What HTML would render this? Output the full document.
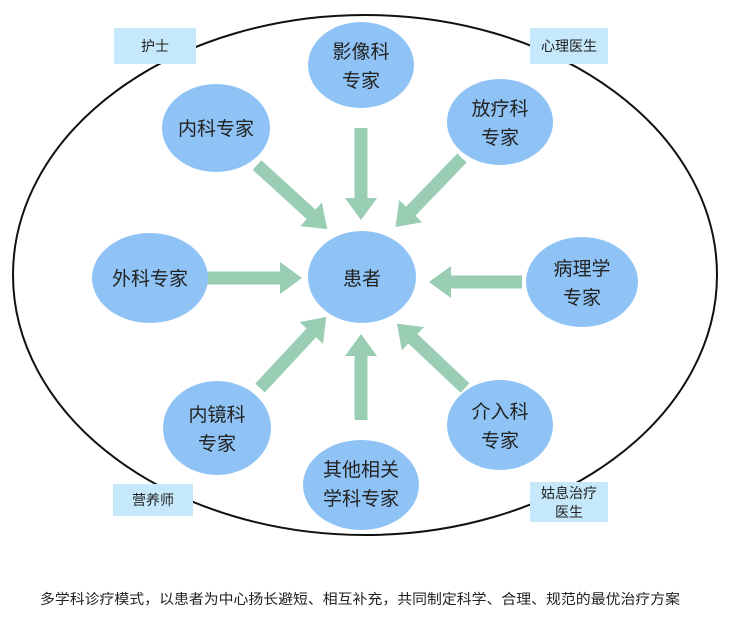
<!DOCTYPE html>
<html><head><meta charset="utf-8"><style>
body{margin:0;background:#fff;}
svg text{font-family:"Liberation Sans","Noto Sans CJK SC",sans-serif;fill:#222;}
</style></head><body>
<svg width="738" height="615" viewBox="0 0 738 615" xmlns="http://www.w3.org/2000/svg">
<defs>
<marker id="ah" markerUnits="userSpaceOnUse" markerWidth="32" markerHeight="32" refX="4" refY="16" orient="auto">
<path d="M0,0 L22,16 L0,32 Z" fill="#99cdb4"/>
</marker>
</defs>
<rect width="738" height="615" fill="#fff"/>
<ellipse cx="365" cy="275" rx="352" ry="260" fill="none" stroke="#111" stroke-width="2"/>
<g stroke="#99cdb4" stroke-width="13" marker-end="url(#ah)">
<line x1="361" y1="128" x2="361" y2="202"/>
<line x1="205" y1="278" x2="284" y2="278"/>
<line x1="522" y1="282" x2="447" y2="282"/>
<line x1="257" y1="165" x2="314" y2="217"/>
<line x1="462" y1="158" x2="408" y2="214"/>
<line x1="361" y1="420" x2="361" y2="352"/>
<line x1="260" y1="388" x2="314" y2="330"/>
<line x1="465" y1="388" x2="410" y2="336"/>
</g>
<g fill="#8fc3f5">
<ellipse cx="361" cy="65" rx="53" ry="43"/>
<ellipse cx="216" cy="128" rx="54" ry="44"/>
<ellipse cx="500" cy="122" rx="53" ry="43"/>
<ellipse cx="150" cy="278" rx="58" ry="45"/>
<ellipse cx="362" cy="277" rx="54" ry="46"/>
<ellipse cx="582" cy="282" rx="56" ry="45"/>
<ellipse cx="217" cy="428" rx="54" ry="47"/>
<ellipse cx="361" cy="485" rx="58" ry="45"/>
<ellipse cx="500" cy="425" rx="53" ry="45"/>
</g>
<g font-size="19" text-anchor="middle">
<text x="361" y="58">影像科</text><text x="361" y="87">专家</text>
<text x="216" y="135">内科专家</text>
<text x="500" y="115">放疗科</text><text x="500" y="144">专家</text>
<text x="150" y="285">外科专家</text>
<text x="362" y="285">患者</text>
<text x="582" y="275">病理学</text><text x="582" y="304">专家</text>
<text x="217" y="421">内镜科</text><text x="217" y="450">专家</text>
<text x="361" y="476">其他相关</text><text x="361" y="505">学科专家</text>
<text x="500" y="418">介入科</text><text x="500" y="447">专家</text>
</g>
<g fill="#c5e8fb">
<rect x="114" y="28" width="82" height="36"/>
<rect x="530" y="28" width="78" height="36"/>
<rect x="113" y="484" width="80" height="32"/>
<rect x="530" y="482" width="78" height="40"/>
</g>
<g font-size="14" text-anchor="middle">
<text x="155" y="51">护士</text>
<text x="569" y="51">心理医生</text>
<text x="153" y="505">营养师</text>
<text x="569" y="498">姑息治疗</text><text x="569" y="517">医生</text>
<text x="360" y="604" textLength="640" lengthAdjust="spacingAndGlyphs">多学科诊疗模式，以患者为中心扬长避短、相互补充，共同制定科学、合理、规范的最优治疗方案</text>
</g>
</svg>
</body></html>
